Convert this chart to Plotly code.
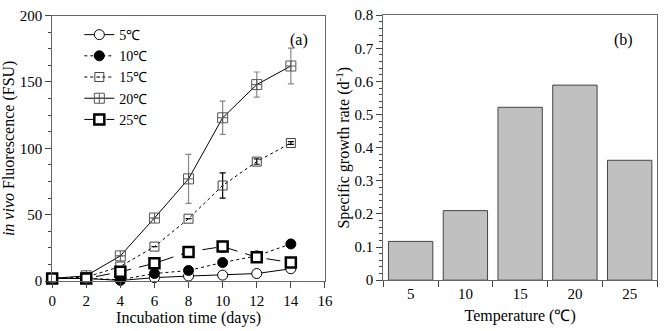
import plotly.graph_objects as go

days = [0, 2, 4, 6, 8, 10, 12, 14]
f5 = [2, 2, 0.5, 2.6, 3.8, 4.5, 5.7, 9.3]
f10 = [2, 2, 1, 5.7, 8, 14, 19, 28]
f15 = [2, 3, 11, 26, 47, 72, 90, 104]
f15_err = [0, 0, 0, 0, 0, 9.5, 2, 1]
f20 = [2, 4, 19, 47.5, 77, 123, 148, 162]
f20_err = [0, 0, 0, 0, 18.5, 12.5, 9.5, 13.5]
f25 = [2, 2, 7, 13.4, 22, 26, 18, 14]
f25_err = [0, 0, 0, 0, 0, 4, 0, 0]

temps = ["5", "10", "15", "20", "25"]
rates = [0.117, 0.210, 0.522, 0.589, 0.362]

FONT = "Liberation Serif, Times New Roman, serif"
fig = go.Figure()

def add(name, y, err, dash, sym, mcol, lcol, lw, size, ecol="black"):
    fig.add_trace(go.Scatter(
        x=days, y=y, name=name, mode="lines+markers",
        line=dict(color="black", width=1, dash=dash),
        marker=dict(symbol=sym, size=size, color=mcol, line=dict(color=lcol, width=lw)),
        error_y=dict(type="data", array=err, visible=err is not None, color=ecol, thickness=1.2, width=3),
        cliponaxis=False, xaxis="x", yaxis="y"))

add("5℃", f5, None, "solid", "circle", "white", "black", 1, 10)
add("10℃", f10, None, "dot", "circle", "black", "black", 1, 10)
add("15℃", f15, f15_err, "dot", "square-open-dot", "#444", "#444", 1, 9)
add("20℃", f20, f20_err, "solid", "square-cross-open", "#555", "#555", 1, 10, ecol="#888")
add("25℃", f25, f25_err, "14px,8px", "square", "white", "black", 2.5, 10)

fig.add_trace(go.Bar(x=temps, y=rates, marker=dict(color="#c0c0c0", line=dict(color="#444", width=1)),
                     xaxis="x2", yaxis="y2", showlegend=False, width=0.81))

axcommon = dict(showline=True, linecolor="#666", linewidth=1, mirror=True, ticks="outside",
                tickcolor="#444", ticklen=6, showgrid=False, zeroline=False,
                tickfont=dict(family=FONT, size=15, color="black"))

fig.update_layout(
    width=667, height=331, margin=dict(l=0, r=0, t=0, b=0),
    paper_bgcolor="white", plot_bgcolor="white",
    font=dict(family=FONT, size=15, color="black"),
    xaxis=dict(domain=[0.0735, 0.490], range=[0, 16], dtick=2, anchor="y",
               title=dict(text="Incubation time (days)", standoff=0, font=dict(size=16)), **axcommon),
    yaxis=dict(domain=[0.133, 0.976], range=[0, 200], dtick=50, anchor="x",
               minor=dict(dtick=12.5, ticks="outside", ticklen=3, tickcolor="#444"),
               title=dict(text="<i>in vivo</i> Fluorescence (FSU)", standoff=4, font=dict(size=16)), **axcommon),
    xaxis2=dict(domain=[0.579, 0.997], anchor="y2", type="category", tickson="boundaries",
                title=dict(text="Temperature (℃)", standoff=8, font=dict(size=16)), **axcommon),
    yaxis2=dict(domain=[0.136, 0.977], range=[0, 0.8], dtick=0.1, anchor="x2",
                minor=dict(dtick=0.02, ticks="outside", ticklen=3, tickcolor="#444"),
                title=dict(text="Specific growth rate (d<sup>-1</sup>)", standoff=0, font=dict(size=16)), **axcommon),
    bargap=0.19,
    legend=dict(x=0.115, y=0.965, xanchor="left", yanchor="top", bgcolor="rgba(0,0,0,0)",
                font=dict(family=FONT, size=14), tracegroupgap=0, itemsizing="trace"),
    showlegend=True,
    annotations=[
        dict(text="(a)", x=300/667, y=1-22/331, xref="paper", yref="paper", showarrow=False,
             font=dict(family=FONT, size=16)),
        dict(text="(b)", x=643/667, y=1-22/331, xref="paper", yref="paper", showarrow=False,
             font=dict(family=FONT, size=16)),
    ],
)

fig.write_html("out.html")
